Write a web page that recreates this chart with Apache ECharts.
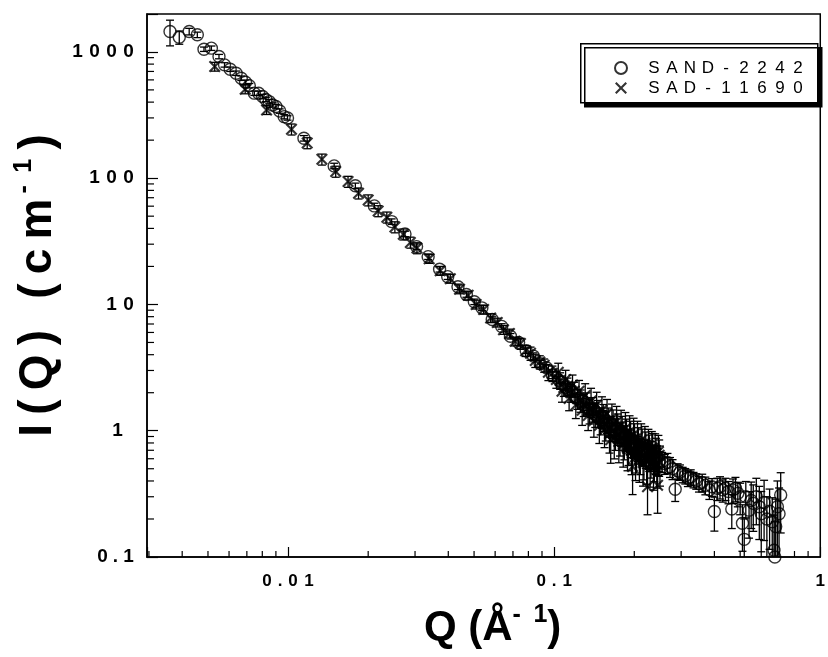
<!DOCTYPE html>
<html>
<head>
<meta charset="utf-8">
<script src="https://cdn.jsdelivr.net/npm/echarts@6.0.0/dist/echarts.min.js"></script>
<style>
  html, body { margin: 0; padding: 0; background: #fff; }
  #main { width: 828px; height: 657px; }
</style>
</head>
<body>
<div id="main"></div>
<script>
// SAND-2242 (circles): Q, I(Q), relative error in %
var sandQ = [0.0036, 0.0039, 0.00425, 0.00456, 0.00483, 0.00515, 0.0055, 0.00577, 0.00606, 0.00638,
  0.00667, 0.00692, 0.00715, 0.00747, 0.00775, 0.00802, 0.00825, 0.00849, 0.00875, 0.009,
  0.0093, 0.00967, 0.00995, 0.01147, 0.0149, 0.0179, 0.0211, 0.0245, 0.0275, 0.0304,
  0.0336, 0.0371, 0.0398, 0.0435, 0.0468, 0.0501, 0.0535, 0.0585, 0.0635, 0.0685,
  0.0735, 0.0785, 0.0835, 0.0885, 0.0935, 0.0985, 0.1045, 0.1105, 0.1165, 0.1225,
  0.1285, 0.1345, 0.1405, 0.1465, 0.1525, 0.1585, 0.1645, 0.1705, 0.1765, 0.1825,
  0.1885, 0.1945, 0.2005, 0.2065, 0.2125, 0.2185, 0.2245, 0.2305, 0.2365, 0.2425,
  0.2485, 0.2545, 0.2605, 0.2665, 0.2725, 0.2785, 0.285, 0.291, 0.297, 0.304,
  0.311, 0.318, 0.326, 0.334, 0.342, 0.35, 0.36, 0.37, 0.383, 0.392,
  0.40, 0.41, 0.42, 0.43, 0.44, 0.452, 0.465, 0.47, 0.48, 0.49,
  0.50, 0.51, 0.518, 0.525, 0.54, 0.55, 0.56, 0.575, 0.59, 0.60,
  0.615, 0.63, 0.645, 0.66, 0.67, 0.675, 0.68, 0.69, 0.70, 0.71];
var sandI = [1449, 1306, 1449, 1365, 1050, 1070, 918, 789, 729, 678,
  619, 575, 540, 471, 470, 443, 420, 404, 380, 369,
  340, 307, 300, 207, 125, 87, 60.3, 45.3, 36.2, 28.7,
  23.9, 19.0, 16.6, 13.8, 12.0, 10.5, 9.4, 7.6, 6.7, 5.6,
  5.0, 4.3, 3.9, 3.4, 3.15, 2.75, 2.5, 2.2, 2.08, 1.8,
  1.72, 1.5, 1.47, 1.28, 1.27, 1.12, 1.13, 1.0, 0.95, 0.94,
  0.85, 0.86, 0.78, 0.76, 0.72, 0.68, 0.70, 0.64, 0.62, 0.63,
  0.58, 0.57, 0.55, 0.56, 0.52, 0.50, 0.344, 0.48, 0.47, 0.45,
  0.44, 0.42, 0.43, 0.41, 0.40, 0.38, 0.39, 0.37, 0.34, 0.36,
  0.229, 0.35, 0.36, 0.34, 0.35, 0.33, 0.24, 0.34, 0.35, 0.32,
  0.30, 0.185, 0.138, 0.30, 0.235, 0.28, 0.266, 0.30, 0.25, 0.22,
  0.27, 0.20, 0.23, 0.19, 0.113, 0.10, 0.174, 0.25, 0.22, 0.31];
var sandErr = [23, 12, 6, 5, 4, 4, 4, 4, 4, 4,
  4, 4, 4, 4, 4, 4, 4, 4, 4, 4,
  4, 4, 4, 5, 5, 5, 5, 5, 5, 5,
  5, 5, 5, 5, 5, 5, 5, 5, 5, 5,
  5, 5, 6, 6, 6, 6, 8, 8, 8, 8,
  10, 10, 10, 10, 14, 14, 14, 14, 16, 16,
  16, 16, 18, 18, 18, 18, 20, 20, 20, 20,
  18, 18, 18, 18, 18, 18, 20, 14, 14, 14,
  14, 14, 14, 14, 14, 14, 16, 16, 16, 16,
  30, 20, 20, 20, 20, 20, 30, 22, 22, 22,
  28, 40, 45, 32, 40, 40, 40, 40, 45, 50,
  50, 50, 50, 55, 90, 90, 65, 60, 60, 50];

// SAD-11690 (crosses)
var sadQ = [0.0053, 0.0069, 0.0083, 0.0103, 0.0118, 0.0134, 0.0151, 0.0168, 0.0184, 0.0200,
  0.0218, 0.0235, 0.0252, 0.0271, 0.0288, 0.0305, 0.0339, 0.0373, 0.0407, 0.0441,
  0.0475, 0.0509, 0.0543, 0.0577, 0.0611, 0.0645, 0.0679, 0.0713, 0.0747, 0.0781,
  0.0815, 0.0849, 0.0883, 0.0917, 0.0951, 0.0985, 0.1019, 0.1036, 0.1053, 0.107,
  0.1087, 0.1104, 0.1121, 0.1138, 0.1155, 0.1172, 0.1189, 0.1206, 0.1223, 0.124,
  0.1257, 0.1274, 0.1291, 0.1308, 0.1325, 0.1342, 0.1359, 0.1376, 0.1393, 0.141,
  0.1427, 0.1444, 0.1461, 0.1478, 0.1495, 0.1512, 0.1529, 0.1546, 0.1563, 0.158,
  0.1597, 0.1614, 0.1631, 0.1648, 0.1665, 0.1682, 0.1699, 0.1716, 0.1733, 0.175,
  0.1767, 0.1784, 0.1801, 0.1818, 0.1835, 0.1852, 0.1869, 0.1886, 0.1903, 0.192,
  0.1937, 0.1954, 0.1971, 0.1988, 0.2005, 0.2022, 0.2039, 0.2056, 0.2073, 0.209,
  0.2107, 0.2124, 0.2141, 0.2158, 0.2175, 0.2192, 0.2209, 0.2226, 0.2243, 0.226,
  0.2277, 0.2294, 0.2311, 0.2328, 0.2345, 0.2362, 0.2379, 0.2396, 0.2413, 0.243,
  0.2447, 0.2464, 0.2481, 0.2498];
var sadI = [765, 506, 347, 244, 190, 141, 113, 94, 76, 67,
  55, 49, 41, 36, 31, 28, 23, 18.5, 16, 13.2,
  11.8, 10.0, 9.1, 7.8, 7.2, 6.3, 5.9, 5.1, 4.9, 4.3,
  4.1, 3.6, 3.5, 3.3, 2.9, 2.85, 2.55, 2.9, 2.5, 2.05,
  2.2, 2.55, 2.25, 1.8, 2.0, 2.3, 2.05, 1.6, 1.8, 2.05,
  1.75, 1.45, 1.62, 1.9, 1.66, 1.32, 1.45, 1.72, 1.5, 1.2,
  1.36, 1.6, 1.4, 1.1, 1.22, 1.45, 1.3, 1.02, 1.12, 1.36,
  1.2, 0.95, 0.85, 1.25, 1.14, 0.88, 0.97, 1.18, 1.06, 0.82,
  0.90, 1.1, 1.0, 0.78, 0.84, 1.04, 0.95, 0.73, 0.78, 0.98,
  0.90, 0.69, 0.52, 0.93, 0.86, 0.62, 0.68, 0.88, 0.80, 0.60,
  0.66, 0.84, 0.78, 0.56, 0.60, 0.80, 0.74, 0.58, 0.36, 0.76,
  0.70, 0.55, 0.62, 0.73, 0.72, 0.52, 0.58, 0.70, 0.66, 0.54,
  0.37, 0.68, 0.64, 0.56];
var sadErr = [8, 8, 8, 10, 10, 10, 10, 10, 10, 10,
  10, 10, 10, 10, 10, 10, 8, 8, 8, 8,
  8, 8, 8, 8, 8, 8, 8, 8, 10, 10,
  12, 12, 12, 12, 14, 14, 15, 18, 15, 18,
  15, 18, 16, 20, 16, 20, 18, 22, 18, 22,
  20, 24, 20, 24, 20, 24, 22, 26, 22, 26,
  22, 26, 24, 28, 24, 28, 24, 28, 26, 30,
  26, 30, 35, 30, 28, 32, 28, 32, 28, 32,
  30, 32, 30, 34, 30, 34, 30, 34, 32, 34,
  32, 35, 40, 35, 32, 35, 32, 35, 32, 35,
  32, 35, 32, 35, 32, 35, 32, 35, 40, 35,
  32, 35, 32, 35, 32, 35, 32, 35, 32, 35,
  40, 35, 32, 35];

// axes
var xMin = 0.00295, xMax = 1;
var yMin = 0.1, yMax = 1995;
var xTickVals = [0.01, 0.1, 1];
var xTickLabels = ['0.01', '0.1', '1'];
var yTickVals = [0.1, 1, 10, 100, 1000];
var yTickLabels = ['0.1', '1', '10', '100', '1000'];
var xMinorTicks = [0.003, 0.004, 0.005, 0.006, 0.007, 0.008, 0.009,
  0.02, 0.03, 0.04, 0.05, 0.06, 0.07, 0.08, 0.09,
  0.2, 0.3, 0.4, 0.5, 0.6, 0.7, 0.8, 0.9];
var yMinorTicks = [0.2, 0.3, 0.4, 0.5, 0.6, 0.7, 0.8, 0.9,
  2, 3, 4, 5, 6, 7, 8, 9,
  20, 30, 40, 50, 60, 70, 80, 90,
  200, 300, 400, 500, 600, 700, 800, 900];

var FONT = '"Liberation Sans", Arial, Helvetica, sans-serif';
var SP = '\u2002';   // en space
var THIN = '\u2009'; // thin space
var CROSS = 'path://M0,2.5L2.5,0L10,7.5L17.5,0L20,2.5L12.5,10L20,17.5L17.5,20L10,12.5L2.5,20L0,17.5L7.5,10Z';

// letter-spaced text: every character in its own fixed-width rich token
function cells(s) {
  return s.split('').map(function (ch) {
    return ch == '.' ? '{p|.}' : '{c|' + ch + '}';
  }).join('');
}

function decadeLabel(vals, labels, pad) {
  return function (v) {
    for (var i = 0; i < vals.length; i++) {
      if (Math.abs(Math.log10(v) - Math.log10(vals[i])) < 1e-6) {
        var s = cells(labels[i]);
        return (pad && labels[i].length == 1) ? s + '{e| }' : s;
      }
    }
    return '';
  };
}

function points(q, y) {
  var out = [];
  for (var i = 0; i < q.length; i++) out.push([q[i], y[i]]);
  return out;
}

function errPoints(q, y, e) {
  var out = [];
  for (var i = 0; i < q.length; i++) {
    var d = y[i] * e[i] / 100;
    out.push([q[i], y[i], y[i] - d, y[i] + d]);
  }
  return out;
}

function renderErr(params, api) {
  var q = api.value(0);
  var lo = api.value(2);
  if (lo <= 0) lo = yMin / 10;
  var top = api.coord([q, api.value(3)]);
  var bot = api.coord([q, lo]);
  var cap = 4;
  var st = { stroke: '#000', lineWidth: 1.3 };
  return {
    type: 'group',
    children: [
      { type: 'line', shape: { x1: top[0], y1: top[1], x2: bot[0], y2: bot[1] }, style: st },
      { type: 'line', shape: { x1: top[0] - cap, y1: top[1], x2: top[0] + cap, y2: top[1] }, style: st },
      { type: 'line', shape: { x1: bot[0] - cap, y1: bot[1], x2: bot[0] + cap, y2: bot[1] }, style: st }
    ]
  };
}

// minor ticks, drawn inward from the bottom / left axis lines
function renderXMinor(params, api) {
  var cs = params.coordSys;
  var x = api.coord([api.value(0), 1])[0];
  var y0 = cs.y + cs.height;
  return { type: 'line', shape: { x1: x, y1: y0, x2: x, y2: y0 - 6 }, style: { stroke: '#000', lineWidth: 1.2 } };
}

function renderYMinor(params, api) {
  var cs = params.coordSys;
  var y = api.coord([0.1, api.value(1)])[1];
  return { type: 'line', shape: { x1: cs.x, y1: y, x2: cs.x + 7, y2: y }, style: { stroke: '#000', lineWidth: 1.2 } };
}

var chart = echarts.init(document.getElementById('main'), null, { renderer: 'canvas' });

function titleRich(size) {
  return {
    t: { fontFamily: FONT, fontWeight: 'bold', fontSize: size, color: '#000', lineHeight: size + 8 },
    s: { fontFamily: FONT, fontWeight: 'bold', fontSize: 25, color: '#000', verticalAlign: 'top', lineHeight: 25 }
  };
}

function labelRich(size, w, wDot, wPad) {
  return {
    c: { fontFamily: FONT, fontWeight: 'bold', fontSize: size, color: '#000', width: w, align: 'center' },
    p: { fontFamily: FONT, fontWeight: 'bold', fontSize: size, color: '#000', width: wDot, align: 'center' },
    e: { fontSize: size, width: wPad }
  };
}

var option = {
  animation: false,
  backgroundColor: '#fff',
  grid: {
    left: 147, right: 3, top: 14, bottom: 100,
    show: true, borderColor: '#000', borderWidth: 1.5
  },
  // legend frame with its hard drop shadow
  graphic: [{
    type: 'rect', left: 580, top: 43, z: 10,
    shape: { width: 237, height: 59 },
    style: {
      fill: '#fff', stroke: '#000', lineWidth: 1.5,
      shadowColor: '#000', shadowBlur: 0, shadowOffsetX: 4, shadowOffsetY: 4
    }
  }],
  legend: {
    data: ['SAND-2242', 'SAD-11690'],
    orient: 'vertical',
    left: 614, top: 58,
    padding: 0,
    itemGap: 0,
    itemWidth: 12, itemHeight: 12,
    z: 20,
    textStyle: {
      color: '#000', lineHeight: 20,
      rich: {
        c: { fontFamily: FONT, fontSize: 17, color: '#000', width: 18, align: 'center', lineHeight: 20 },
        e: { fontSize: 17, width: 13, lineHeight: 20 }
      }
    },
    formatter: function (name) {
      return '{e| }' + name.split('').map(function (ch) { return '{c|' + ch + '}'; }).join('');
    }
  },
  xAxis: {
    type: 'log', logBase: 10, min: xMin, max: xMax,
    name: '{t|Q (Å}{s|-' + SP + '1}{t|)}',
    nameLocation: 'middle', nameGap: 46,
    nameTextStyle: { rich: titleRich(42), padding: [0, 0, 0, 18] },
    axisLine: { lineStyle: { color: '#000', width: 1.5 } },
    axisTick: { inside: true, length: 10, lineStyle: { color: '#000', width: 1.2 } },
    splitLine: { show: false },
    axisLabel: {
      margin: 16,
      rich: labelRich(17, 16, 10, 0),
      formatter: decadeLabel(xTickVals, xTickLabels, false)
    }
  },
  yAxis: {
    type: 'log', logBase: 10, min: yMin, max: yMax,
    name: '{t|' + 'I(Q) (cm'.split('').join(THIN) + '}{s|' + THIN + '-' + SP + '1}{t|' + THIN + ')}',
    nameLocation: 'middle', nameGap: 59,
    nameTextStyle: { rich: titleRich(46) },
    axisLine: { lineStyle: { color: '#000', width: 1.5 } },
    axisTick: { inside: true, length: 11, lineStyle: { color: '#000', width: 1.2 } },
    splitLine: { show: false },
    axisLabel: {
      margin: 10,
      rich: labelRich(19, 17, 9, 11),
      formatter: decadeLabel(yTickVals, yTickLabels, true)
    }
  },
  series: [
    {
      type: 'custom', silent: true, clip: true, z: 1,
      renderItem: renderErr,
      encode: { x: 0, y: 1 },
      data: errPoints(sandQ, sandI, sandErr)
    },
    {
      type: 'custom', silent: true, clip: true, z: 1,
      renderItem: renderErr,
      encode: { x: 0, y: 1 },
      data: errPoints(sadQ, sadI, sadErr)
    },
    {
      name: 'SAND-2242', type: 'scatter', z: 2,
      symbol: 'circle', symbolSize: 12,
      itemStyle: { color: 'rgba(0,0,0,0)', borderColor: '#000', borderWidth: 1.4 },
      data: points(sandQ, sandI)
    },
    {
      name: 'SAD-11690', type: 'scatter', z: 3,
      symbol: CROSS, symbolSize: 12,
      itemStyle: { color: '#000' },
      data: points(sadQ, sadI)
    },
    {
      type: 'custom', silent: true, z: 4,
      renderItem: renderXMinor,
      encode: { x: 0, y: 1 },
      data: xMinorTicks.map(function (v) { return [v, 1]; })
    },
    {
      type: 'custom', silent: true, z: 4,
      renderItem: renderYMinor,
      encode: { x: 0, y: 1 },
      data: yMinorTicks.map(function (v) { return [0.1, v]; })
    }
  ]
};

chart.setOption(option);
</script>
</body>
</html>
